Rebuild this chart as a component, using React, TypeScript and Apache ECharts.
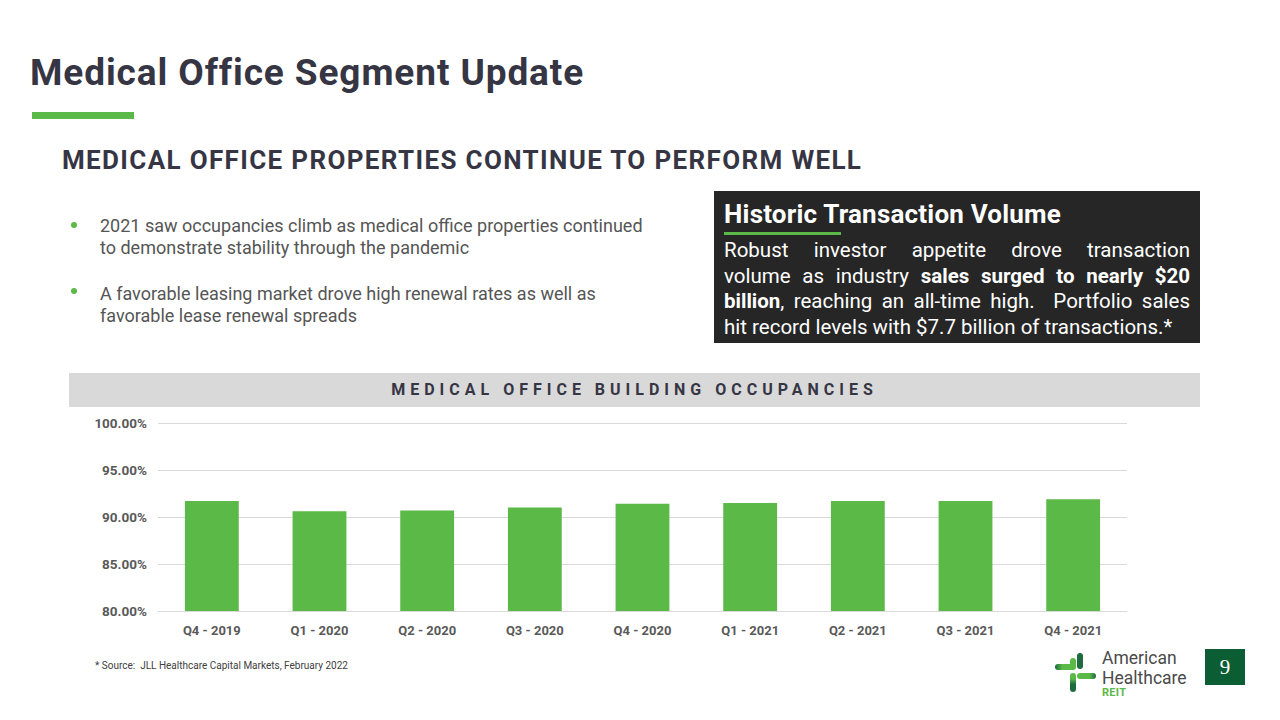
import React, { useEffect, useRef } from "react";
import * as echarts from "echarts";

const categories = ["Q4 - 2019", "Q1 - 2020", "Q2 - 2020", "Q3 - 2020", "Q4 - 2020", "Q1 - 2021", "Q2 - 2021", "Q3 - 2021", "Q4 - 2021"];
const occupancy = [91.7, 90.6, 90.7, 91.0, 91.4, 91.5, 91.7, 91.7, 91.9];
const yMin = 80;
const yMax = 100;
const yInterval = 5;

const DARK = "#353544";
const GREEN = "#5bb947";
const DKGREEN = "#1d6b3f";

function Chart() {
  const ref = useRef<HTMLDivElement>(null);
  useEffect(() => {
    if (!ref.current) return;
    const chart = echarts.init(ref.current, null, { renderer: "svg" });
    chart.setOption({
      animation: false,
      grid: { left: 89, right: 73, top: 16, bottom: 46 },
      xAxis: {
        type: "category",
        data: categories,
        axisLine: { show: true, lineStyle: { color: "#d9d9d9", width: 1 } },
        axisTick: { show: false },
        axisLabel: { color: "#595959", fontSize: 13, fontWeight: "bold", fontFamily: "Roboto", margin: 13 },
      },
      yAxis: {
        type: "value",
        min: yMin,
        max: yMax,
        interval: yInterval,
        axisLine: { show: false },
        axisTick: { show: false },
        splitLine: { lineStyle: { color: "#d9d9d9", width: 1 } },
        axisLabel: {
          color: "#595959",
          fontSize: 13.5,
          fontWeight: "bold",
          fontFamily: "Roboto",
          margin: 11,
          formatter: (v: number) => v.toFixed(2) + "%",
        },
      },
      series: [
        {
          type: "bar",
          data: occupancy,
          barWidth: "50%",
          itemStyle: { color: GREEN },
        },
      ],
    });
    return () => chart.dispose();
  }, []);
  return <div ref={ref} style={{ position: "absolute", left: 69, top: 407, width: 1131, height: 250 }} />;
}

const abs = (s: React.CSSProperties): React.CSSProperties => ({ position: "absolute", ...s });

export default function App() {
  useEffect(() => {
    document.body.style.margin = "0";
  }, []);
  return (
    <div style={{ position: "fixed", left: 0, top: 0, width: 1280, height: 720, background: "#ffffff", fontFamily: "Roboto, 'Noto Sans', sans-serif", overflow: "hidden" }}>
      <div style={abs({ left: 30, top: 50, fontSize: 37, fontWeight: 700, color: DARK, letterSpacing: 0.9, whiteSpace: "nowrap", lineHeight: "46px" })}>
        Medical Office Segment Update
      </div>
      <div style={abs({ left: 32, top: 112, width: 102, height: 7, background: GREEN })} />
      <div style={abs({ left: 62, top: 144, fontSize: 26, fontWeight: 700, color: DARK, letterSpacing: 1.35, whiteSpace: "nowrap", lineHeight: "32px" })}>
        MEDICAL OFFICE PROPERTIES CONTINUE TO PERFORM WELL
      </div>

      <div style={abs({ left: 71, top: 222, width: 6, height: 6, borderRadius: 3, background: GREEN })} />
      <div style={abs({ left: 100, top: 215, fontSize: 18, color: "#555555", lineHeight: "22px", whiteSpace: "nowrap" })}>
        2021 saw occupancies climb as medical office properties continued
        <br />
        to demonstrate stability through the pandemic
      </div>
      <div style={abs({ left: 71, top: 288, width: 6, height: 6, borderRadius: 3, background: GREEN })} />
      <div style={abs({ left: 100, top: 283, fontSize: 18, color: "#555555", lineHeight: "22px", whiteSpace: "nowrap" })}>
        A favorable leasing market drove high renewal rates as well as
        <br />
        favorable lease renewal spreads
      </div>

      <div style={abs({ left: 714, top: 191, width: 486, height: 152, background: "#262626" })} />
      <div style={abs({ left: 724, top: 198, fontSize: 26, fontWeight: 700, color: "#ffffff", whiteSpace: "nowrap", lineHeight: "32px", letterSpacing: 0.2 })}>
        Historic Transaction Volume
      </div>
      <div style={abs({ left: 724, top: 232, width: 117, height: 3, background: GREEN })} />
      <div style={abs({ left: 724, top: 238, width: 466, fontSize: 20.5, color: "#ffffff", lineHeight: "25.7px" })}>
        <div style={{ textAlign: "justify", textAlignLast: "justify", whiteSpace: "nowrap" }}>Robust investor appetite drove transaction</div>
        <div style={{ textAlign: "justify", textAlignLast: "justify" }}>
          volume as industry <b>sales surged to nearly $20</b>
        </div>
        <div style={{ textAlign: "justify", textAlignLast: "justify" }}>
          <b>billion</b>, reaching an all-time high.&nbsp; Portfolio sales
        </div>
        <div style={{ whiteSpace: "nowrap" }}>hit record levels with $7.7 billion of transactions.*</div>
      </div>

      <div style={abs({ left: 69, top: 373, width: 1131, height: 34, background: "#d9d9d9" })} />
      <div style={abs({ left: 69, top: 373, width: 1131, height: 34, lineHeight: "34px", textAlign: "center", fontSize: 16, fontWeight: 700, color: DARK, letterSpacing: 5.0, whiteSpace: "nowrap" })}>
        MEDICAL OFFICE BUILDING OCCUPANCIES
      </div>

      <Chart />

      <div style={abs({ left: 95, top: 659, fontSize: 10, color: "#404040", whiteSpace: "nowrap", lineHeight: "14px" })}>
        * Source:&nbsp; JLL Healthcare Capital Markets, February 2022
      </div>

      <div style={abs({ left: 1077, top: 653, width: 6, height: 16, borderRadius: 3, background: DKGREEN })} />
      <div style={abs({ left: 1070, top: 658, width: 6, height: 11, borderRadius: 3, background: GREEN })} />
      <div style={abs({ left: 1055, top: 664, width: 21, height: 6, borderRadius: 3, background: `linear-gradient(to right, ${DKGREEN} 0%, ${GREEN} 35%)` })} />
      <div style={abs({ left: 1077, top: 673, width: 19, height: 6, borderRadius: 3, background: `linear-gradient(to right, ${GREEN} 65%, ${DKGREEN} 100%)` })} />
      <div style={abs({ left: 1070, top: 673, width: 6, height: 19, borderRadius: 3, background: `linear-gradient(to bottom, ${GREEN} 30%, ${DKGREEN} 60%)` })} />
      <div style={abs({ left: 1102, top: 648, fontSize: 17.5, color: "#4a4a4a", lineHeight: "20px", whiteSpace: "nowrap" })}>
        American
        <br />
        Healthcare
      </div>
      <div style={abs({ left: 1102, top: 686, fontSize: 11, fontWeight: 700, color: GREEN, lineHeight: "14px", letterSpacing: 0.3 })}>REIT</div>

      <div style={abs({ left: 1205, top: 649, width: 40, height: 36, background: "#0b5d33", color: "#ffffff", fontSize: 21, lineHeight: "36px", textAlign: "center", fontFamily: "'Liberation Serif', serif" })}>
        9
      </div>
    </div>
  );
}
